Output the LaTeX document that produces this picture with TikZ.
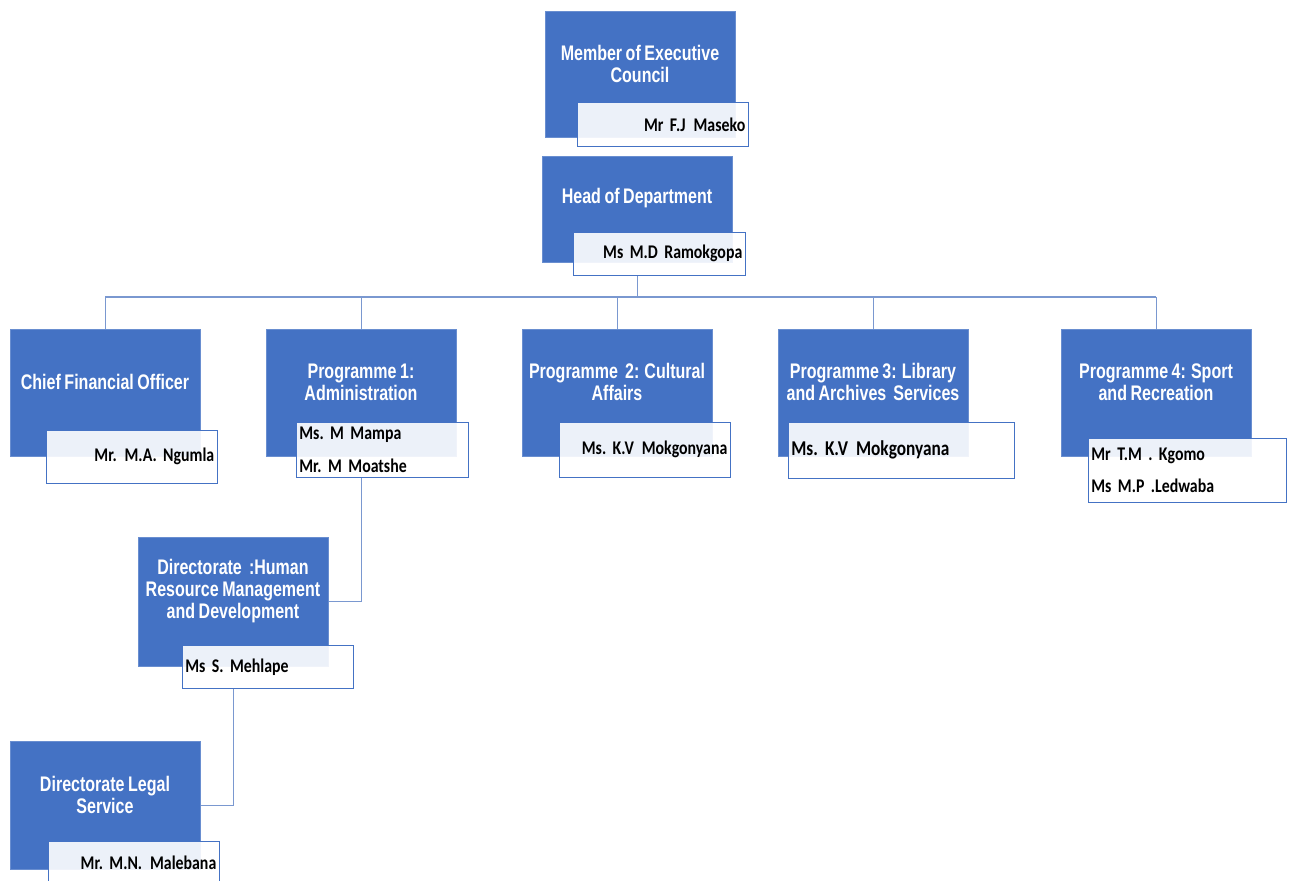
\documentclass[tikz,border=0pt]{standalone}
\usepackage{xcolor}
\usepackage{fontspec}
\usepackage{tikz}
\usetikzlibrary{positioning}
\setmainfont{Carlito}
\newfontfamily\headfont[FakeStretch=0.76, WordSpace=0.8]{Liberation Sans}
\newfontfamily\namefont[FakeStretch=0.82]{Carlito}
\newcommand\namespacing{\frenchspacing\spaceskip=2pt plus 0.5pt\relax}
\newcommand\wide{\hspace{4.5pt}}
\definecolor{orgblue}{HTML}{4472C4}
\definecolor{orgline}{HTML}{7A98D0}
\tikzstyle{post} = [rectangle, fill=orgblue, draw=orgblue!80!white,
    minimum width=3.8cm, minimum height=2.54cm, anchor=north west, inner sep=0pt]
\tikzstyle{posttitle} = [text=white, align=center, inner sep=0pt,
    font=\headfont\bfseries\fontsize{12}{12.5}\selectfont]
\tikzstyle{holder} = [rectangle, draw=orgblue, fill=white, fill opacity=0.9,
    text opacity=1, anchor=north west, inner xsep=0.06cm, inner ysep=0pt,
    font=\namefont\bfseries\fontsize{11}{18.7}\selectfont\namespacing]
\tikzstyle{edge} = [draw=orgline, line width=0.7pt]

\begin{document}
\begin{tikzpicture}[x=0.02cm, y=-0.02cm]
  \useasboundingbox (0,0) rectangle (1292,880);
  % Place nodes
  \node [post, minimum height=2.52cm] (mec) at (545,11) {};
  \node [post, minimum height=2.12cm] (hod) at (542,156) {};
  \node [post] (cfo) at (10,329) {};
  \node [post] (p1) at (266,329) {};
  \node [post] (p2) at (522,329) {};
  \node [post] (p3) at (778,329) {};
  \node [post] (p4) at (1061,329) {};
  \node [post, minimum height=2.58cm] (hr) at (138,537) {};
  \node [post, minimum height=2.56cm] (legal) at (10,741) {};
  % Titles
  \node [posttitle] (mecT) at (640,64) {Member of Executive\\Council};
  \node [posttitle] (hodT) at (637,198) {Head of Department};
  \node [posttitle] (cfoT) at (105,382) {Chief Financial Officer};
  \node [posttitle] (p1T) at (361,382) {Programme 1:\\Administration};
  \node [posttitle] (p2T) at (617,382) {Programme\ \ 2: Cultural\\Affairs};
  \node [posttitle] (p3T) at (873,382) {Programme 3: Library\\and Archives\ \ Services};
  \node [posttitle] (p4T) at (1156,382) {Programme 4: Sport\\and Recreation};
  \node [posttitle] (hrT) at (233,591) {Directorate\ \ :Human\\Resource Management\\and Development};
  \node [posttitle] (legalT) at (105,795) {Directorate Legal\\Service};
  % Office holders
  \node [holder, text width=3.30cm, minimum height=0.88cm, align=right] (mecN) at (577,102) {Mr F.J\wide Maseko};
  \node [holder, text width=3.32cm, minimum height=0.86cm, align=right] (hodN) at (573,232) {Ms M.D Ramokgopa};
  \node [holder, text width=3.30cm, minimum height=1.06cm, align=right] (cfoN) at (46,430) {Mr.\wide M.A. Ngumla};
  \node [holder, text width=3.32cm, minimum height=1.10cm, align=left] (p1N) at (296,422) {Ms. M Mampa\\Mr. M Moatshe};
  \node [holder, text width=3.30cm, minimum height=1.10cm, align=right] (p2N) at (559,422) {Ms. K.V\wide Mokgonyana};
  \node [holder, text width=4.40cm, minimum height=1.12cm, align=left,
         font=\namefont\bfseries\fontsize{12}{14}\selectfont\namespacing] (p3N) at (788,422) {Ms. K.V\wide Mokgonyana};
  \node [holder, text width=3.84cm, minimum height=1.28cm, align=left] (p4N) at (1088,438) {Mr T.M . Kgomo\\Ms M.P .Ledwaba};
  \node [holder, text width=3.30cm, minimum height=0.86cm, align=left] (hrN) at (182,645) {Ms S. Mehlape};
  \node [holder, text width=3.30cm, minimum height=0.86cm, align=right] (legalN) at (48,841) {Mr. M.N.\wide Malebana};
  % Draw edges
  \coordinate (bus) at (637,297);
  \draw [edge] (hod.south |- hodN.south) -- (hod.south |- bus);
  \draw [edge] (cfo.north |- bus) -- (p4.north |- bus);
  \foreach \n in {cfo,p1,p2,p3,p4}
    \draw [edge] (\n.north |- bus) -- (\n.north);
  \draw [edge] (p1.south |- p1N.south) |- (hr.east);
  \draw [edge] (hr.south |- hrN.south) |- (legal.east);
\end{tikzpicture}
\end{document}
